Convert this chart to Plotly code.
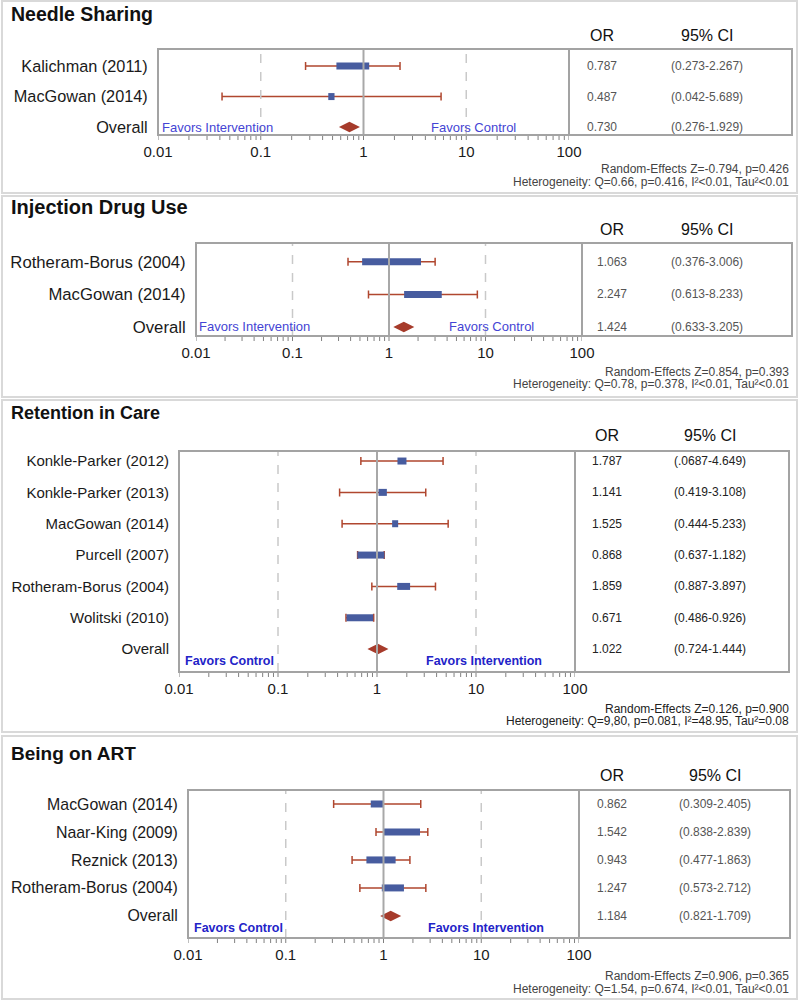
import plotly.graph_objects as go

# ---------------- data ----------------
ns_studies = ["Kalichman (2011)", "MacGowan (2014)"]
ns_or = [0.787, 0.487]
ns_lo = [0.273, 0.042]
ns_hi = [2.267, 5.689]
ns_weight = [84, 16]
ns_ci_text = ["(0.273-2.267)", "(0.042-5.689)"]
ns_overall = 0.730
ns_overall_ci = "(0.276-1.929)"
ns_stats = ["Random-Effects Z=-0.794, p=0.426",
            "Heterogeneity: Q=0.66, p=0.416, I²<0.01, Tau²<0.01"]

idu_studies = ["Rotheram-Borus (2004)", "MacGowan (2014)"]
idu_or = [1.063, 2.247]
idu_lo = [0.376, 0.613]
idu_hi = [3.006, 8.233]
idu_weight = [61, 39]
idu_ci_text = ["(0.376-3.006)", "(0.613-8.233)"]
idu_overall = 1.424
idu_overall_ci = "(0.633-3.205)"
idu_stats = ["Random-Effects Z=0.854, p=0.393",
             "Heterogeneity: Q=0.78, p=0.378, I²<0.01, Tau²<0.01"]

ret_studies = ["Konkle-Parker (2012)", "Konkle-Parker (2013)", "MacGowan (2014)",
               "Purcell (2007)", "Rotheram-Borus (2004)", "Wolitski (2010)"]
ret_or = [1.787, 1.141, 1.525, 0.868, 1.859, 0.671]
ret_lo = [0.687, 0.419, 0.444, 0.637, 0.887, 0.486]
ret_hi = [4.649, 3.108, 5.233, 1.182, 3.897, 0.926]
ret_weight = [10.0, 9.3, 6.7, 30.0, 14.3, 29.6]
ret_ci_text = ["(.0687-4.649)", "(0.419-3.108)", "(0.444-5.233)",
               "(0.637-1.182)", "(0.887-3.897)", "(0.486-0.926)"]
ret_overall = 1.022
ret_overall_ci = "(0.724-1.444)"
ret_stats = ["Random-Effects Z=0.126, p=0.900",
             "Heterogeneity: Q=9,80, p=0.081, I²=48.95, Tau²=0.08"]

art_studies = ["MacGowan (2014)", "Naar-King (2009)", "Reznick (2013)", "Rotheram-Borus (2004)"]
art_or = [0.862, 1.542, 0.943, 1.247]
art_lo = [0.309, 0.838, 0.477, 0.573]
art_hi = [2.405, 2.839, 1.863, 2.712]
art_weight = [12.8, 36.0, 29.0, 22.0]
art_ci_text = ["(0.309-2.405)", "(0.838-2.839)", "(0.477-1.863)", "(0.573-2.712)"]
art_overall = 1.184
art_overall_ci = "(0.821-1.709)"
art_stats = ["Random-Effects Z=0.906, p=0.365",
             "Heterogeneity: Q=1.54, p=0.674, I²<0.01, Tau²<0.01"]

x_tickvals = [0.01, 0.1, 1, 10, 100]
x_ticktext = ["0.01", "0.1", "1", "10", "100"]
ref_dashed = [0.1, 10]
ref_solid = 1

# ---------------- styling / geometry ----------------
W, H = 800, 1001
FONT = "Liberation Sans, Arial, sans-serif"
BLUE = "#475C9F"
RED = "#B0472F"
DIAMOND = "#A63B2B"
FRAME = "#A3A3A3"
TICK = "#808080"

# tick marks of the log axis (1..9 within each decade)
minor_vals = [m * d for d in x_tickvals[:-1] for m in range(1, 10)] + [x_tickvals[-1]]

panels = [
    dict(title="Needle Sharing", studies=ns_studies, orv=ns_or, lo=ns_lo, hi=ns_hi,
         wt=ns_weight, ci=ns_ci_text, ov=ns_overall, ovci=ns_overall_ci, stats=ns_stats,
         fav=("Favors Intervention", "Favors Control"), favbold=False, favsize=13,
         box=(1, 193), px=(158, 569), tr=792, py=(49, 135), pad=(0.56, 0.26),
         ty=14, tsize=19.5, hy=35, sy=(169, 181.5), orx=602, cix=707, fy=127, fx=(160, 429),
         lab=16.3, scale=0.0038, tcol="#555555", scol="#444444"),
    dict(title="Injection Drug Use", studies=idu_studies, orv=idu_or, lo=idu_lo, hi=idu_hi,
         wt=idu_weight, ci=idu_ci_text, ov=idu_overall, ovci=idu_overall_ci, stats=idu_stats,
         fav=("Favors Intervention", "Favors Control"), favbold=False, favsize=13,
         box=(196, 397), px=(196, 582), tr=792, py=(243, 336), pad=(0.58, 0.28),
         ty=207, tsize=20, hy=229, sy=(372, 384.5), orx=612, cix=707, fy=327, fx=(197, 447),
         lab=16.7, scale=0.0100, tcol="#555555", scol="#444444"),
    dict(title="Retention in Care", studies=ret_studies, orv=ret_or, lo=ret_lo, hi=ret_hi,
         wt=ret_weight, ci=ret_ci_text, ov=ret_overall, ovci=ret_overall_ci, stats=ret_stats,
         fav=("Favors Control", "Favors Intervention"), favbold=True, favsize=12.5,
         box=(400, 732), px=(179, 575), tr=789, py=(451, 672), pad=(0.32, 0.73),
         ty=413, tsize=18, hy=435, sy=(708.5, 721), orx=607, cix=710, fy=661, fx=(183, 424),
         lab=15, scale=0.0091, tcol="#222222", scol="#222222"),
    dict(title="Being on ART", studies=art_studies, orv=art_or, lo=art_lo, hi=art_hi,
         wt=art_weight, ci=art_ci_text, ov=art_overall, ovci=art_overall_ci, stats=art_stats,
         fav=("Favors Control", "Favors Intervention"), favbold=True, favsize=12.5,
         box=(736, 999), px=(188, 579), tr=790, py=(790, 938), pad=(0.5, 0.79),
         ty=753, tsize=19, hy=775, sy=(976, 988.5), orx=612, cix=715, fy=928, fx=(192, 426),
         lab=15.9, scale=0.0103, tcol="#555555", scol="#444444"),
]


def fx_(p):
    return p / W


def fy_(p):
    return 1 - p / H


fig = go.Figure()
shapes = []
annotations = []
layout_axes = {}

for i, P in enumerate(panels):
    k = "" if i == 0 else str(i + 1)
    xa, ya = "x" + k, "y" + k
    n = len(P["studies"])
    rows = list(range(n + 1))
    labels = P["studies"] + ["Overall"]

    # CI whiskers
    fig.add_trace(go.Scatter(
        x=P["orv"], y=rows[:n], xaxis=xa, yaxis=ya, mode="markers",
        marker=dict(size=1, color="rgba(0,0,0,0)"),
        error_x=dict(type="data", symmetric=False,
                     array=[h - o for h, o in zip(P["hi"], P["orv"])],
                     arrayminus=[o - l for o, l in zip(P["orv"], P["lo"])],
                     color=RED, thickness=1.5, width=4),
        hoverinfo="skip", showlegend=False))

    # weight boxes
    bx, by = [], []
    for j, (o, w) in enumerate(zip(P["orv"], P["wt"])):
        half = 10 ** (w * P["scale"] / 2)
        bx += [o / half, o * half, None]
        by += [j, j, None]
    fig.add_trace(go.Scatter(x=bx, y=by, xaxis=xa, yaxis=ya, mode="lines",
                             line=dict(color=BLUE, width=7), hoverinfo="skip",
                             showlegend=False))

    # overall diamond
    fig.add_trace(go.Scatter(x=[P["ov"]], y=[n], xaxis=xa, yaxis=ya, mode="markers",
                             marker=dict(symbol="diamond-wide", size=15, color=DIAMOND),
                             hoverinfo="skip", showlegend=False))

    layout_axes["xaxis" + k] = dict(
        type="log", domain=[fx_(P["px"][0]), fx_(P["px"][1])], anchor=ya,
        range=[-2, 2], tickmode="array", tickvals=x_tickvals, ticktext=x_ticktext,
        ticks="", ticklabelstandoff=6,
        showgrid=False, zeroline=False, showline=False, automargin=False,
        tickfont=dict(family=FONT, size=15, color="#1a1a1a"))
    layout_axes["yaxis" + k] = dict(
        domain=[fy_(P["py"][1]), fy_(P["py"][0])], anchor=xa,
        range=[n + P["pad"][1], -P["pad"][0]], tickmode="array", tickvals=rows,
        ticktext=labels, ticks="outside", ticklen=6, tickcolor="rgba(0,0,0,0)",
        showgrid=False, zeroline=False, showline=False, automargin=False,
        tickfont=dict(family=FONT, size=P["lab"], color="#1a1a1a"))

    # panel frame
    shapes.append(dict(type="rect", xref="paper", yref="paper",
                       x0=fx_(2), x1=fx_(797), y0=fy_(P["box"][1]), y1=fy_(P["box"][0]),
                       line=dict(color="#D9D9D9", width=2), layer="below"))
    # tick marks hanging below the frame
    yb = fy_(P["py"][1])
    for v in minor_vals:
        shapes.append(dict(type="line", xref=xa, yref="paper", x0=v, x1=v,
                           y0=yb - 1 / H, y1=yb - 5 / H,
                           line=dict(color=TICK, width=1)))
    # reference lines
    for v in ref_dashed:
        shapes.append(dict(type="line", xref=xa, yref=ya + " domain", x0=v, x1=v, y0=0, y1=1,
                           line=dict(color="#C9C9C9", width=1.5, dash="dash")))
    shapes.append(dict(type="line", xref=xa, yref=ya + " domain", x0=ref_solid, x1=ref_solid,
                       y0=0, y1=1, line=dict(color="#A8A8A8", width=2)))
    # plot + table frame
    shapes.append(dict(type="rect", xref="paper", yref="paper",
                       x0=fx_(P["px"][0]), x1=fx_(P["tr"]), y0=fy_(P["py"][1]), y1=fy_(P["py"][0]),
                       line=dict(color=FRAME, width=2)))
    shapes.append(dict(type="line", xref="paper", yref="paper",
                       x0=fx_(P["px"][1]), x1=fx_(P["px"][1]), y0=fy_(P["py"][1]), y1=fy_(P["py"][0]),
                       line=dict(color=FRAME, width=2)))

    # title
    annotations.append(dict(text="<b>" + P["title"] + "</b>", xref="paper", yref="paper",
                            x=fx_(9), y=fy_(P["ty"]), xanchor="left", yanchor="middle",
                            showarrow=False, font=dict(family=FONT, size=P["tsize"], color="#111")))
    # headers
    annotations.append(dict(text="OR", xref="paper", yref="paper", x=fx_(P["orx"]), y=fy_(P["hy"]),
                            xanchor="center", yanchor="middle", showarrow=False,
                            font=dict(family=FONT, size=16, color="#111")))
    annotations.append(dict(text="95% CI", xref="paper", yref="paper", x=fx_(P["cix"]), y=fy_(P["hy"]),
                            xanchor="center", yanchor="middle", showarrow=False,
                            font=dict(family=FONT, size=16, color="#111")))
    # table values
    or_txt = [f"{v:.3f}" for v in P["orv"]] + [f"{P['ov']:.3f}"]
    ci_txt = P["ci"] + [P["ovci"]]
    for r, (a, b) in enumerate(zip(or_txt, ci_txt)):
        annotations.append(dict(text=a, xref="paper", yref=ya, x=fx_(P["orx"]), y=r,
                                xanchor="center", yanchor="middle", showarrow=False,
                                font=dict(family=FONT, size=12, color=P["tcol"])))
        annotations.append(dict(text=b, xref="paper", yref=ya, x=fx_(P["cix"]), y=r,
                                xanchor="center", yanchor="middle", showarrow=False,
                                font=dict(family=FONT, size=12, color=P["tcol"])))
    # favors labels
    fcol = "#2323C8" if P["favbold"] else "#4444D4"
    for t, xp in zip(P["fav"], P["fx"]):
        annotations.append(dict(text=("<b>%s</b>" % t) if P["favbold"] else t,
                                xref="paper", yref="paper", x=fx_(xp), y=fy_(P["fy"]),
                                xanchor="left", yanchor="middle", showarrow=False,
                                font=dict(family=FONT, size=P["favsize"], color=fcol)))
    # statistics footer
    for t, yp in zip(P["stats"], P["sy"]):
        annotations.append(dict(text=t, xref="paper", yref="paper", x=fx_(791), y=fy_(yp),
                                xanchor="right", yanchor="middle", showarrow=False,
                                font=dict(family=FONT, size=12, color=P["scol"])))

fig.update_layout(width=W, height=H, margin=dict(l=0, r=0, t=0, b=0, pad=0, autoexpand=False),
                  paper_bgcolor="white", plot_bgcolor="white",
                  shapes=shapes, annotations=annotations, showlegend=False,
                  **layout_axes)

fig.write_html("out.html", config={"displayModeBar": False},
               post_script="document.body.style.margin='0';document.body.style.padding='0';"
                           "document.body.style.overflow='hidden';")
